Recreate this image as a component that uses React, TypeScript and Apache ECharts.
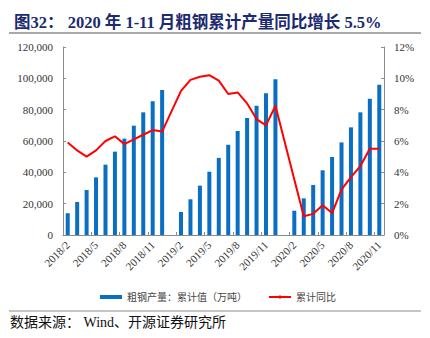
import React, { useEffect, useRef } from "react";
import * as echarts from "echarts";

const categories: string[] = [
  "2018/2", "2018/3", "2018/4", "2018/5", "2018/6", "2018/7", "2018/8", "2018/9", "2018/10", "2018/11", "2018/12",
  "2019/1", "2019/2", "2019/3", "2019/4", "2019/5", "2019/6", "2019/7", "2019/8", "2019/9", "2019/10", "2019/11", "2019/12",
  "2020/1", "2020/2", "2020/3", "2020/4", "2020/5", "2020/6", "2020/7", "2020/8", "2020/9", "2020/10", "2020/11",
];

const outputValues: (number | null)[] = [
  13900, 21100, 28700, 36800, 44900, 53200, 61500, 69800, 78300, 85300, 92600,
  null, 14700, 22800, 31500, 40400, 49200, 57600, 66400, 74700, 82500, 90400, 99400,
  null, 15500, 23400, 31900, 41300, 49800, 59100, 68700, 78300, 87000, 95900,
];

const yoyValues: (number | null)[] = [
  5.9, 5.4, 5.0, 5.4, 6.0, 6.3, 5.8, 6.1, 6.4, 6.7, 6.6,
  null, 9.2, 9.9, 10.1, 10.2, 9.85, 9.0, 9.1, 8.4, 7.4, 7.0, 8.25,
  null, 3.55, 1.2, 1.35, 1.9, 1.4, 2.9, 3.7, 4.4, 5.5, 5.5,
];

const titleText = "图32： 2020 年 1-11 月粗钢累计产量同比增长 5.5%";
const sourceText = "数据来源： Wind、开源证券研究所";
const barName = "粗钢产量：累计值（万吨）";
const lineName = "累计同比";

const serif = "'Liberation Serif', 'Times New Roman', 'Noto Sans CJK SC', serif";
const cjk = "'Liberation Serif', 'Noto Sans CJK SC', sans-serif";

export default function App() {
  const ref = useRef<HTMLDivElement>(null);
  useEffect(() => {
    if (!ref.current) return;
    const chart = echarts.init(ref.current, undefined, { renderer: "svg" });
    chart.setOption({
      animation: false,
      backgroundColor: "#ffffff",
      title: {
        text: titleText,
        left: 9,
        top: 9,
        textStyle: {
          fontSize: 16.5,
          fontWeight: "bold",
          color: "#1c2a6e",
          fontFamily: cjk,
        },
      },
      graphic: [
        {
          type: "line",
          shape: { x1: 9, y1: 33, x2: 421, y2: 33 },
          style: { stroke: "#8c8c8c", lineWidth: 1.5 },
        },
        {
          type: "line",
          shape: { x1: 9, y1: 311, x2: 421, y2: 311 },
          style: { stroke: "#8c8c8c", lineWidth: 1 },
        },
        {
          type: "text",
          left: 10,
          top: 315,
          style: {
            text: sourceText,
            fontSize: 14,
            fill: "#111",
            fontFamily: cjk,
          },
        },
      ],
      legend: {
        left: 95,
        top: 287,
        itemWidth: 22,
        itemHeight: 4,
        itemGap: 21,
        textStyle: { fontSize: 10, color: "#444", fontFamily: cjk },
        data: [
          { name: barName, icon: "rect" },
          { name: lineName },
        ],
      },
      grid: { left: 63, right: 46, top: 47, bottom: 103 },
      xAxis: {
        type: "category",
        data: categories,
        boundaryGap: true,
        axisLine: { lineStyle: { color: "#8c8c8c", width: 1 } },
        axisTick: { show: true, inside: true, interval: 2, length: 3, lineStyle: { color: "#8c8c8c" } },
        axisLabel: {
          interval: 2,
          rotate: 45,
          fontSize: 11,
          color: "#333",
          fontFamily: serif,
          margin: 8,
        },
      },
      yAxis: [
        {
          type: "value",
          min: 0,
          max: 120000,
          interval: 20000,
          axisLine: { show: true, lineStyle: { color: "#8c8c8c" } },
          axisTick: { show: true, inside: true, length: 3, lineStyle: { color: "#8c8c8c" } },
          splitLine: { show: false },
          axisLabel: {
            fontSize: 11,
            color: "#333",
            fontFamily: serif,
            margin: 10,
            formatter: (v: number) => v.toLocaleString("en-US"),
          },
        },
        {
          type: "value",
          min: 0,
          max: 12,
          interval: 2,
          position: "right",
          axisLine: { show: true, lineStyle: { color: "#8c8c8c" } },
          axisTick: { show: true, inside: true, length: 3, lineStyle: { color: "#8c8c8c" } },
          splitLine: { show: false },
          axisLabel: {
            fontSize: 11,
            color: "#333",
            fontFamily: serif,
            margin: 10,
            formatter: "{value}%",
          },
        },
      ],
      series: [
        {
          name: barName,
          type: "bar",
          data: outputValues,
          barWidth: 4,
          itemStyle: { color: "#0a6fc2" },
          yAxisIndex: 0,
        },
        {
          name: lineName,
          type: "line",
          data: yoyValues,
          yAxisIndex: 1,
          symbol: "none",
          connectNulls: true,
          lineStyle: { color: "#ff0000", width: 2 },
          itemStyle: { color: "#ff0000" },
        },
      ],
    });
    return () => chart.dispose();
  }, []);
  return <div ref={ref} style={{ width: 430, height: 338, margin: -8 }} />;
}
